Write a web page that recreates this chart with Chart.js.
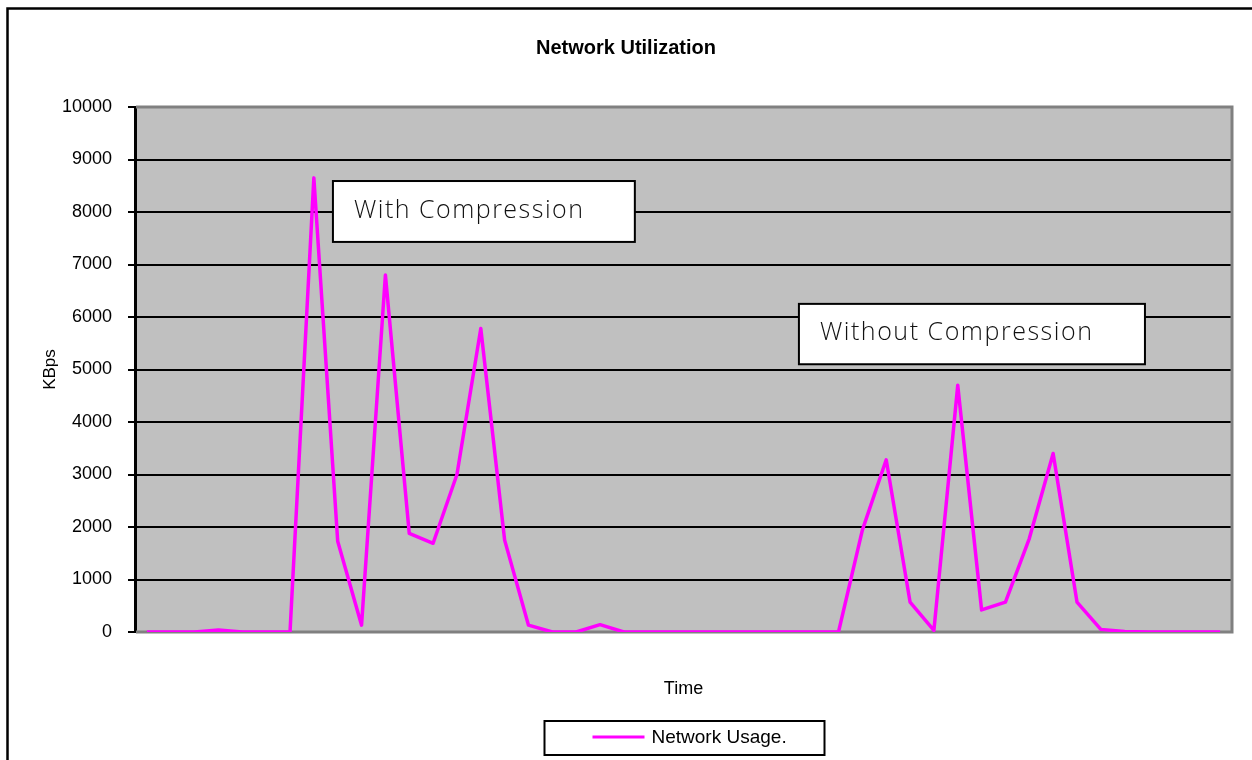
<!DOCTYPE html>
<html>
<head>
<meta charset="utf-8">
<title>Network Utilization</title>
<script src="https://cdn.jsdelivr.net/npm/chart.js@4.4.1/dist/chart.umd.min.js"></script>
<style>
    html, body { margin: 0; padding: 0; background: #fff; }
    #wrap { width: 1252px; height: 760px; }
</style>
</head>
<body>
<div id="wrap"><canvas id="netChart" width="1252" height="760"></canvas></div>
<script>
// Time slots (x axis has no visible tick labels)
const timeSlots = ['1', '2', '3', '4', '5', '6', '7', '8', '9', '10',
    '11', '12', '13', '14', '15', '16', '17', '18', '19', '20',
    '21', '22', '23', '24', '25', '26', '27', '28', '29', '30',
    '31', '32', '33', '34', '35', '36', '37', '38', '39', '40',
    '41', '42', '43', '44', '45', '46'];

// KBps
const networkUsage = [0, 0, 0, 40, 0, 0, 0, 8650, 1730, 130,
    6800, 1880, 1690, 3000, 5780, 1750, 130, 0, 0, 140,
    0, 0, 0, 0, 0, 0, 0, 0, 0, 0,
    1940, 3280, 570, 30, 4700, 420, 570, 1780, 3400, 570,
    50, 10, 0, 0, 0, 0];

const yTicks = [0, 1000, 2000, 3000, 4000, 5000, 6000, 7000, 8000, 9000, 10000];

const notes = [
    { text: 'With Compression', x0: 7.8, x1: 20.46, y0: 8590, y1: 7430, textWidth: 229 },
    { text: 'Without Compression', x0: 27.34, x1: 41.85, y0: 6250, y1: 5100, textWidth: 272 }
];

const plotDecor = {
    id: 'plotDecor',
    beforeDraw(chart) {
        const a = chart.chartArea, ctx = chart.ctx;
        ctx.save();
        ctx.fillStyle = '#ffffff';
        ctx.fillRect(0, 0, chart.width, chart.height);
        ctx.fillStyle = '#c0c0c0';
        ctx.fillRect(a.left, a.top, a.right - a.left, a.bottom - a.top);
        ctx.restore();
    },
    beforeDatasetsDraw(chart) {
        const a = chart.chartArea, ctx = chart.ctx;
        const xs = chart.scales.x, ys = chart.scales.y;
        ctx.save();
        // grey plot border (top, right, bottom)
        ctx.strokeStyle = '#808080';
        ctx.lineWidth = 3;
        ctx.beginPath();
        ctx.moveTo(a.left + 1, a.top);
        ctx.lineTo(a.right, a.top);
        ctx.lineTo(a.right, a.bottom);
        ctx.lineTo(a.left + 1, a.bottom);
        ctx.stroke();

        // annotation boxes
        notes.forEach(function(n) {
            const l = xs.getPixelForValue(n.x0), r = xs.getPixelForValue(n.x1);
            const t = ys.getPixelForValue(n.y0), b = ys.getPixelForValue(n.y1);
            ctx.fillStyle = '#ffffff';
            ctx.fillRect(l, t, r - l, b - t);
            ctx.strokeStyle = '#000000';
            ctx.lineWidth = 2;
            ctx.strokeRect(l, t, r - l, b - t);
            ctx.font = '300 25px "Open Sans"';
            ctx.letterSpacing = '0px';
            const w = ctx.measureText(n.text).width;
            ctx.letterSpacing = ((n.textWidth - w) / (n.text.length - 1)).toFixed(2) + 'px';
            ctx.fillStyle = '#111111';
            ctx.textAlign = 'left';
            ctx.textBaseline = 'middle';
            ctx.fillText(n.text, l + 21, (t + b) / 2 - 1);
            ctx.letterSpacing = '0px';
        });
        ctx.restore();
    },
    afterDraw(chart) {
        const a = chart.chartArea, ctx = chart.ctx;
        const ds = chart.data.datasets[0];
        ctx.save();
        // outer frame
        ctx.strokeStyle = '#000000';
        ctx.lineWidth = 2.5;
        ctx.strokeRect(7.5, 8.5, chart.width + 20, chart.height + 20);

        // legend
        const cx = (a.left + a.right) / 2 + 1;
        ctx.lineWidth = 2;
        ctx.strokeRect(cx - 140, 721, 280, 34);
        ctx.strokeStyle = ds.borderColor;
        ctx.lineWidth = 3;
        ctx.beginPath();
        ctx.moveTo(cx - 92, 737);
        ctx.lineTo(cx - 40, 737);
        ctx.stroke();
        ctx.fillStyle = '#000000';
        ctx.font = '19px "Liberation Sans", Arial, sans-serif';
        ctx.textAlign = 'left';
        ctx.textBaseline = 'middle';
        ctx.fillText(ds.label, cx - 33, 738);
        ctx.restore();
    }
};

const ctx = document.getElementById('netChart').getContext('2d');
const netChart = new Chart(ctx, {
    type: 'line',
    data: {
        labels: timeSlots,
        datasets: [{
            label: 'Network Usage.',
            data: networkUsage,
            borderColor: '#ff00ff',
            backgroundColor: '#ff00ff',
            borderWidth: 3.5,
            borderJoinStyle: 'round',
            pointRadius: 0,
            tension: 0,
            fill: false
        }]
    },
    options: {
        responsive: false,
        animation: false,
        layout: {
            padding: { left: 20, right: 20, top: 0, bottom: 60.2 }
        },
        plugins: {
            legend: { display: false },
            tooltip: { enabled: false },
            title: {
                display: true,
                text: 'Network Utilization',
                color: '#000000',
                font: { family: '"Liberation Sans", Arial, sans-serif', size: 20, weight: 'bold', lineHeight: 1.2 },
                padding: { top: 36, bottom: 47 }
            }
        },
        scales: {
            x: {
                offset: true,
                grid: { display: false, drawTicks: false },
                border: { display: false },
                ticks: { display: false },
                title: {
                    display: true,
                    text: 'Time',
                    color: '#000000',
                    font: { family: '"Liberation Sans", Arial, sans-serif', size: 18, lineHeight: 1.2 },
                    padding: { top: 46.2, bottom: 0 }
                },
                afterFit: function(scale) { scale.height = 67.8; }
            },
            y: {
                min: 0,
                max: 10000,
                afterBuildTicks: function(scale) {
                    scale.ticks = yTicks.map(function(v) { return { value: v }; });
                },
                grid: { color: '#000000', lineWidth: 2, tickLength: 7, drawTicks: true },
                border: { display: true, color: '#000000', width: 3 },
                ticks: {
                    color: '#000000',
                    padding: 16,
                    font: { family: '"Liberation Sans", Arial, sans-serif', size: 18 },
                    callback: function(value) { return String(value); }
                },
                title: {
                    display: true,
                    text: 'KBps',
                    color: '#000000',
                    font: { family: '"Liberation Sans", Arial, sans-serif', size: 17, lineHeight: 1.2 },
                    padding: { top: 19.8, bottom: 0 }
                },
                afterFit: function(scale) { scale.width = 115; }
            }
        }
    },
    plugins: [plotDecor]
});
</script>
</body>
</html>
